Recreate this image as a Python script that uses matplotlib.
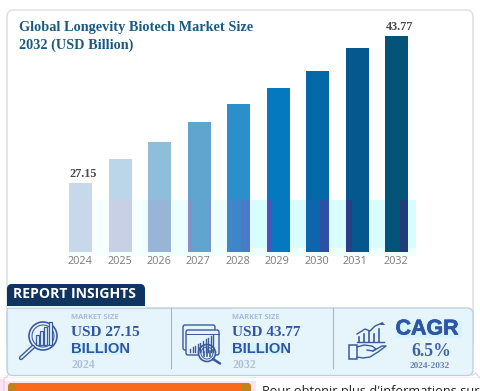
"""Longevity biotech market size bar chart with the report insights strip."""

import matplotlib

matplotlib.use("Agg")

import matplotlib.patheffects as pe
import matplotlib.pyplot as plt
import numpy as np
from matplotlib.patches import Circle, FancyBboxPatch, Polygon, Rectangle

W, H = 481, 391

YEARS = ["2024", "2025", "2026", "2027", "2028", "2029", "2030", "2031", "2032"]
MARKET_SIZE = [27.15, 29.86, 31.78, 34.04, 36.08, 37.89, 39.81, 42.41, 43.77]
BAR_COLORS = [
    "#c5d9ea", "#bcd6e9", "#8fbedb", "#5fa5d0", "#2a8fca",
    "#0579c0", "#0468a8", "#04588e", "#045478",
]
# tint left on each bar by the pale band behind the chart: (from, to, colour)
BAND_TINTS = [
    [(0.0, 1.0, "#c8d8ea")],
    [(0.0, 1.0, "#c8d0e6")],
    [(0.0, 1.0, "#98b5d8")],
    [(0.0, 0.2, "#8590c8"), (0.2, 0.92, "#5fa5d0"), (0.92, 1.0, "#8590c8")],
    [(0.0, 0.6, "#3f86c8"), (0.6, 1.0, "#4a7ac8")],
    [(0.0, 0.22, "#4a55c0"), (0.22, 1.0, "#0579c0")],
    [(0.0, 0.6, "#0d66ac"), (0.6, 1.0, "#2c50a2")],
    [(0.0, 0.25, "#2a3d88"), (0.25, 1.0, "#04588e")],
    [(0.0, 0.65, "#045478"), (0.65, 1.0, "#1f3d78")],
]
YEAR_NUDGE = [-1, -0.5, -0.7, -1, -0.5, -1, -0.5, -2.5, -0.7]

TITLE_LINES = ["Global Longevity Biotech Market Size", "2032 (USD Billion)"]
NAVY = "#0f3460"
BLUE = "#2f55a4"
ICON = "#3a5a9c"

fig = plt.figure(figsize=(W / 100, H / 100), dpi=100, facecolor="white")

# page furniture is laid out in image pixels
deco = fig.add_axes([0, 0, 1, 1], zorder=0)
deco.set_xlim(0, W)
deco.set_ylim(H, 0)
deco.axis("off")

# chart card
deco.add_patch(FancyBboxPatch((7, 10), 466, 340, boxstyle="round,pad=0,rounding_size=7",
                              fc="white", ec="#dcdcdc", lw=1))

# pale band behind the bars
for x0, x1, y0, y1, c in [
    (65, 142, 200, 256, "#f7feff"),
    (142, 240, 200, 256, "#ecfeff"),
    (240, 416, 200, 256, "#d8fcff"),
    (142, 416, 248, 256, "#effeff"),
]:
    deco.add_patch(Rectangle((x0, y0), x1 - x0, y1 - y0, fc=c, ec="none"))

# bars: x axis runs on bar index, y axis is cut off well above zero
ax = fig.add_axes([0, (H - 252) / H, 1, 216 / H], zorder=2)
ax.patch.set_alpha(0)
ax.set_xlim((0 - 80.5) / 39.55, (W - 80.5) / 39.55)
ax.set_ylim(19.35, 43.77)
ax.axis("off")
bar_w = 23 / 39.55
idx = np.arange(len(YEARS))
ax.bar(idx, MARKET_SIZE, width=bar_w, color=BAR_COLORS, linewidth=0, bottom=0)

# tinted lower part of each bar, from band top (pixel 200) to the base
band_top = 19.35 + (252 - 200) * (43.77 - 19.35) / 216
for i, parts in enumerate(BAND_TINTS):
    for f0, f1, c in parts:
        ax.bar(i - bar_w / 2 + bar_w * f0, band_top - 19.35, width=bar_w * (f1 - f0),
               bottom=19.35, align="edge", color=c, linewidth=0)

for i, year in enumerate(YEARS):
    ax.annotate(year, (i, 0), xycoords=("data", "axes fraction"),
                xytext=(YEAR_NUDGE[i] * 0.72, -10 * 0.72), textcoords="offset points",
                ha="center", va="center", fontsize=7.8, color="#7a7a7a",
                family="Open Sans", annotation_clip=False)

for i in (0, len(YEARS) - 1):
    ax.annotate(f"{MARKET_SIZE[i]:.2f}", (i, MARKET_SIZE[i]), xytext=(2, 6.2),
                textcoords="offset points", ha="center", va="center", fontsize=8.8,
                fontweight="bold", color="#4a4a4a", family="Liberation Serif",
                annotation_clip=False)

top = fig.add_axes([0, 0, 1, 1], zorder=3)
top.set_xlim(0, W)
top.set_ylim(H, 0)
top.axis("off")
top.patch.set_alpha(0)

for line, y in zip(TITLE_LINES, [27, 45]):
    top.text(19, y, line, ha="left", va="center", fontsize=10.3, fontweight="bold",
             color="#1a5a80", family="Liberation Serif")

# insights panel
top.add_patch(FancyBboxPatch((7, 308), 466, 67.5, boxstyle="round,pad=0,rounding_size=6",
                             fc="#e6f5fc", ec="#b8cfdf", lw=0.9))
top.add_patch(Rectangle((7, 308), 8, 20, fc="#e6f5fc", ec="none"))
top.plot([7, 7], [308, 370], color="#c5d5e0", lw=0.8)
top.plot([7, 230], [308, 308], color="#c5d5e0", lw=0.8)
for x in (171.5, 333):
    top.plot([x, x], [308, 368], color="#a5b5c5", lw=0.8)

# report insights tab
top.add_patch(FancyBboxPatch((7, 284), 138, 26, boxstyle="round,pad=0,rounding_size=5",
                             fc=NAVY, ec="none"))
top.add_patch(Rectangle((7, 305.5), 139, 6, fc="#e6f5fc", ec="none"))
top.text(13, 294.5, "REPORT INSIGHTS", ha="left", va="center", fontsize=10.1,
         fontweight="bold", color="white", family="Open Sans")

# the two market size blocks
for x, usd, yr in [(71.5, "USD 27.15", "2024"), (232.5, "USD 43.77", "2032")]:
    top.text(x, 317.5, "MARKET SIZE", ha="left", va="center", fontsize=5.4,
             fontweight="bold", color="#a9bcd8", family="Open Sans")
    top.text(x, 333, usd, ha="left", va="center", fontsize=11, fontweight="bold",
             color=BLUE, family="Liberation Serif")
    top.add_patch(Rectangle((x - 1, 343), 55, 12, fc="#d6f4fd", ec="none"))
    top.text(x, 349, "BILLION", ha="left", va="center", fontsize=10.6, fontweight="bold",
             color=BLUE, family="Liberation Sans")
    top.text(x, 365, yr, ha="left", va="center", fontsize=8.6, fontweight="bold",
             color="#b0c0d4", family="Liberation Serif")

# CAGR block
top.add_patch(Rectangle((396, 321), 66, 17, fc="#d6f4fd", ec="none"))
top.text(427, 329, "CAGR", ha="center", va="center", fontsize=15.4, fontweight="bold",
         color=BLUE, family="Liberation Sans",
         path_effects=[pe.withStroke(linewidth=0.5, foreground=BLUE)])
top.text(431, 352, "6.5%", ha="center", va="center", fontsize=12.8, fontweight="bold",
         color="#3f62a8", family="Liberation Serif")
top.text(430, 365.5, "2024-2032", ha="center", va="center", fontsize=6.7, fontweight="bold",
         color="#6a80b0", family="Liberation Serif")

# magnifier icon
top.add_patch(Circle((43, 336), 14, fc="none", ec=ICON, lw=1.2))
top.add_patch(Circle((43, 336), 11, fc="none", ec=ICON, lw=0.8))
for x, y0 in [(36, 335), (40, 331), (44, 327), (49, 322)]:
    top.add_patch(Rectangle((x, y0), 3.2, 345 - y0, fc="#e6f5fc", ec=ICON, lw=0.9))
top.plot([33, 21], [347, 358], color=ICON, lw=3.2, solid_capstyle="round")
top.plot([33, 21], [347, 358], color="#e6f5fc", lw=1.2, solid_capstyle="round")

# windows and lens icon
top.add_patch(FancyBboxPatch((183, 325), 32, 25, boxstyle="round,pad=0,rounding_size=2",
                             fc="none", ec=ICON, lw=1))
top.add_patch(FancyBboxPatch((186, 330), 33, 25, boxstyle="round,pad=0,rounding_size=2",
                             fc="#e6f5fc", ec=ICON, lw=1))
top.plot([186, 219], [334, 334], color=ICON, lw=0.7)
for j, x in enumerate(np.arange(190, 216, 2.6)):
    top.plot([x, x], [352, 349 - j * 1.6], color=ICON, lw=1)
top.add_patch(Circle((207, 353), 8.5, fc="#e6f5fc", ec=ICON, lw=1.2))
top.add_patch(Circle((207, 353), 6, fc="none", ec=ICON, lw=0.7))
for x, y0 in [(204, 352), (207, 349), (210, 351)]:
    top.plot([x, x], [356, y0], color=ICON, lw=1.2)
top.plot([213, 220], [359, 363.5], color=ICON, lw=1.8, solid_capstyle="round")

# hand and chart icon
top.plot([357, 384], [342, 342], color=ICON, lw=1)
for x, y0 in [(359, 337), (364, 334), (369, 331), (374, 334), (379, 329)]:
    top.plot([x, x], [342, y0], color=ICON, lw=1.2)
top.plot([357, 365, 370, 375, 382], [334, 329, 331, 326, 323], color=ICON, lw=1)
top.add_patch(Polygon([(382.5, 322), (385, 325), (380, 325)], fc=ICON, ec="none"))
top.add_patch(Rectangle((349, 345), 8, 14, fc="none", ec=ICON, lw=1.1))
top.plot([357, 364, 372, 376, 373, 367], [347, 345, 346, 349, 351, 350], color=ICON, lw=1)
top.plot([373, 382, 386, 378, 370, 363, 357],
         [351, 346, 346, 352, 357, 358, 357], color=ICON, lw=1)

# next page block below the panel
top.add_patch(Rectangle((0, 376.5), 481, 1.2, fc="#fbeef8", ec="none"))
top.add_patch(Rectangle((0, 379), 4, 12, fc="#ffe2f4", ec="none"))
top.add_patch(Rectangle((4, 381), 252, 10, fc="#ffe2f4", ec="none"))
top.add_patch(FancyBboxPatch((8, 383), 243, 14, boxstyle="round,pad=0,rounding_size=3",
                             fc="#c0841f", ec="none"))
top.add_patch(Rectangle((16, 383), 225, 9, fc="#f96a1b", ec="none"))
top.plot([4, 4, 8], [391, 379, 375.5], color="#d5d5d5", lw=0.8)
top.plot([472, 476, 480], [375.5, 373, 378], color="#d5d5d5", lw=0.8)
top.text(262, 395, "Pour obtenir plus d'informations sur", ha="left", va="baseline",
         fontsize=9.2, color="#222222", family="Open Sans", clip_on=True)

fig.savefig("out.png", dpi=100)
plt.close(fig)
